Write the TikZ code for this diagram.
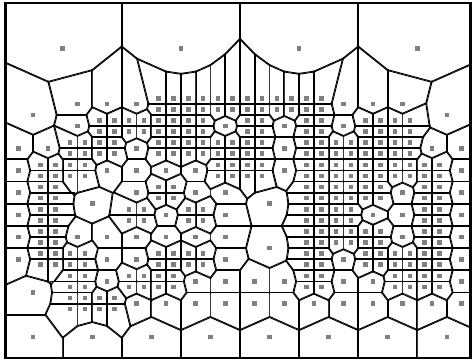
\documentclass[tikz,border=0pt]{standalone}
\usetikzlibrary{calc}
\definecolor{sitegray}{RGB}{128,128,128}

\newcount\pairdu
\newcount\pairdv
\newcount\pairgap
\newcount\pairlim

% quadtree leaves, stored in half cells: \site{U}{V}{S}
\gdef\sitelist{}
\newcommand\leafsite[3]{%
  \xdef\sitelist{\unexpanded\expandafter{\sitelist}\noexpand\site{\the\numexpr2*#1\relax}{\the\numexpr2*#2\relax}{\the\numexpr2*#3\relax}}}
\newcommand\quadsite[2]{%
  \foreach \qi in {-1,1}{\foreach \qj in {-1,1}{%
    \xdef\sitelist{\unexpanded\expandafter{\sitelist}\noexpand\site{\the\numexpr2*#1+\qi\relax}{\the\numexpr2*#2+\qj\relax}{2}}}}}

% big leaves (8 and 4 cells)
\foreach \cu/\cv in {4/4,12/4,20/4,28/4}{\leafsite{\cu}{\cv}{8}}
\foreach \cu/\cv in {2/10,30/10,6/18,18/18,18/22,2/26,2/30,6/30,10/30,14/30,18/30,22/30,26/30,30/30}{\leafsite{\cu}{\cv}{4}}
% medium leaves (2 cells)
\foreach \cu/\cv in {5/9,7/9,5/11,1/13,3/13,1/15,7/15,
  9/9,15/11,9/13,9/15,11/15,13/15,
  23/9,19/11,23/11,19/13,19/15,
  25/9,27/9,29/13,31/13,31/15,
  1/17,1/19,1/21,1/23,5/21,7/21,7/23,
  9/17,13/17,15/17,11/19,15/19,9/21,11/21,13/21,15/21,9/23,15/23,
  23/23,
  27/17,25/19,27/19,31/17,31/19,27/21,31/21,31/23,
  7/25,
  9/27,11/27,13/25,15/25,13/27,15/27,
  17/25,19/25,17/27,19/27,23/25,21/27,23/27,
  25/25,25/27,27/27,31/25,29/27,31/27}{\leafsite{\cu}{\cv}{2}}
% fine leaves (groups of four)
\foreach \cu/\cv in {7/11,3/15,5/13,7/13,5/15,
  11/9,13/9,15/9,9/11,11/11,13/11,11/13,13/13,15/13,15/15,
  17/9,19/9,21/9,17/11,21/11,17/13,21/13,23/13,17/15,21/15,23/15,
  25/11,27/11,25/13,27/13,25/15,27/15,29/15,
  3/17,3/19,3/21,3/23,5/23,
  11/17,9/19,13/19,11/23,13/23,
  21/17,23/17,21/19,23/19,21/21,23/21,21/23,
  25/17,29/17,29/19,25/21,25/23,27/23,29/21,29/23,
  5/25,5/27,7/27,
  9/25,11/25,
  21/25,
  27/25,29/25}{\quadsite{\cu}{\cv}}

% half stroke of the bisector, clipped to the cell
\def\bisector#1#2{%
  \pgfmathsetmacro\jX{3.6+7.3875*#1}%
  \pgfmathsetmacro\jY{356.1-5.55*#2}%
  \pgfmathsetmacro\mX{(\iX+\jX)/2}%
  \pgfmathsetmacro\mY{(\iY+\jY)/2}%
  \pgfmathsetmacro\ang{atan2(\jY-\iY,\jX-\iX)}%
  \clip[shift={(\mX,\mY)},rotate=\ang] (-700,-700) -- (0,-700) -- (0,700) -- (-700,700) -- cycle;
  \xdef\celllines{\unexpanded\expandafter{\celllines}\noexpand\draw[edge,shift={(\mX,\mY)},rotate=\ang] (0,-700) -- (0,700);}%
}
\def\pairsite#1#2#3{%
  \pairdu=\numexpr\iU-#1\relax \ifnum\pairdu<0 \pairdu=-\pairdu\fi
  \pairdv=\numexpr\iV-#2\relax \ifnum\pairdv<0 \pairdv=-\pairdv\fi
  \ifnum\iS>#3 \pairgap=\iS\relax\else\pairgap=#3\relax\fi
  \divide\pairgap by 4
  \ifnum\pairgap<1 \pairgap=1\fi
  \pairlim=\numexpr(\iS+#3)/2+\pairgap\relax
  \ifnum\pairdu>\pairlim\else\ifnum\pairdv>\pairlim\else
    \ifnum\numexpr\pairdu+\pairdv\relax>0 \bisector{#1}{#2}\fi
  \fi\fi}
\def\cellsite#1#2#3{%
  \def\iU{#1}\def\iV{#2}\def\iS{#3}%
  \pgfmathsetmacro\iX{3.6+7.3875*#1}%
  \pgfmathsetmacro\iY{356.1-5.55*#2}%
  \gdef\celllines{}%
  \begin{scope}
    \let\site\pairsite
    \sitelist
    \celllines
  \end{scope}}
\def\dotsite#1#2#3{%
  \pgfmathsetmacro\iX{3.6+7.3875*#1}%
  \pgfmathsetmacro\iY{356.1-5.55*#2}%
  \fill[dot] (\iX-2.3,\iY-2.3) rectangle ++(4.6,4.6);}

\begin{document}
\begin{tikzpicture}[x=1pt,y=1pt,
  edge/.style={line width=1.8pt},
  dot/.style={fill=sitegray},
  frame/.style={draw, line width=2.2pt}]
\useasboundingbox (0,0) rectangle (472,360);

% cells
\begin{scope}
  \clip (5.5,1.7) rectangle (470.5,356.7);
  \let\site\cellsite
  \sitelist
\end{scope}

% sites
\let\site\dotsite
\sitelist

% frame
\draw[frame] (5.5,1.7) rectangle (470.5,356.7);
\end{tikzpicture}
\end{document}
